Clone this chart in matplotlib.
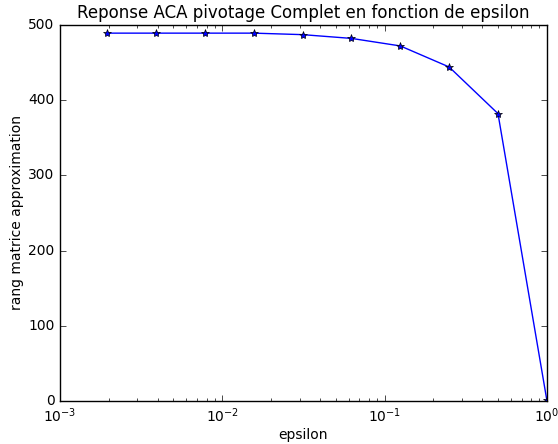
import matplotlib
matplotlib.use("Agg")
import matplotlib.pyplot as plt

plt.style.use("classic")

epsilon = [2.0**-9, 2.0**-8, 2.0**-7, 2.0**-6, 2.0**-5, 2.0**-4, 2.0**-3, 2.0**-2, 2.0**-1, 1.0]
rang = [489, 489, 489, 489, 487, 482, 472, 444, 382, 1]

fig = plt.figure(figsize=(5.58, 4.44), dpi=100)
ax = fig.add_axes([0.1075, 0.097, 0.8725, 0.847])
ax.plot(epsilon, rang, "b-*", markeredgecolor="k", markersize=6)
ax.set_xscale("log")
ax.set_xlim(1e-3, 1)
ax.set_ylim(0, 500)
ax.set_title("Reponse ACA pivotage Complet en fonction de epsilon", fontsize=12)
ax.set_xlabel("epsilon", fontsize=10, labelpad=2)
ax.set_ylabel("rang matrice approximation", fontsize=10, labelpad=3)
ax.tick_params(labelsize=10)
fig.savefig("out.png", dpi=100)
